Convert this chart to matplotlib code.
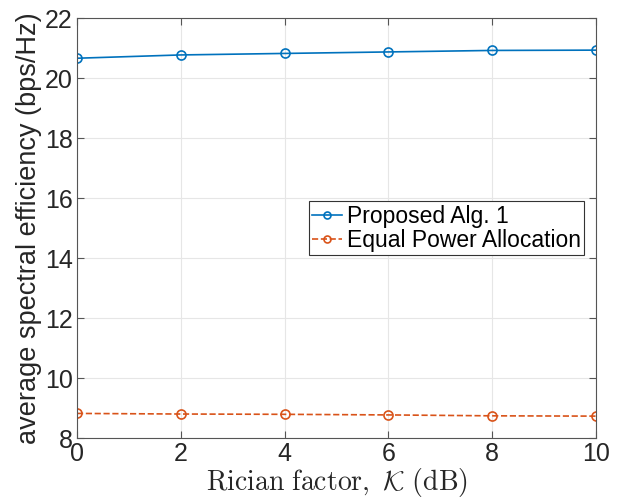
import matplotlib
matplotlib.use("Agg")
import matplotlib.pyplot as plt

K_DB = [0, 2, 4, 6, 8, 10]
PROPOSED = [20.66, 20.77, 20.82, 20.87, 20.92, 20.93]
EQUAL_PA = [8.82, 8.80, 8.79, 8.77, 8.74, 8.73]

plt.rcParams["font.family"] = ["Liberation Sans", "DejaVu Sans"]
plt.rcParams["mathtext.fontset"] = "cm"

fig = plt.figure(figsize=(6.18, 5.01), dpi=100)
ax = fig.add_axes([0.1246, 0.1257, 0.8398, 0.8383])

ax.plot(K_DB, PROPOSED, "-o", color="#0072BD", lw=1.2, ms=6.5, mfc="none", mew=1.2,
        label="Proposed Alg. 1")
ax.plot(K_DB, EQUAL_PA, "--o", color="#D95319", lw=1.2, ms=6.5, mfc="none", mew=1.2,
        label="Equal Power Allocation")

ax.set_xlim(0, 10)
ax.set_ylim(8, 22)
ax.set_xticks(range(0, 11, 2))
ax.set_yticks(range(8, 23, 2))
ax.grid(True, color="#e6e6e6", lw=0.8)
ax.set_axisbelow(True)
ax.tick_params(direction="in", top=True, right=True, labelsize=18, length=5,
               color="#555555", labelcolor="#262626", pad=3)
for s in ax.spines.values():
    s.set_color("#555555")
    s.set_linewidth(0.8)

ax.set_xlabel(r"$\mathrm{Rician\ factor,}\ \mathcal{K}\ \mathrm{(dB)}$", fontsize=20,
              labelpad=0, color="#262626")
ax.set_ylabel("average spectral efficiency (bps/Hz)", fontsize=19.5, labelpad=2,
              color="#262626")

leg = ax.legend(loc="upper left", bbox_to_anchor=(0.447, 0.564), fontsize=16.5,
                fancybox=False, framealpha=1, edgecolor="#333333", handlelength=1.3,
                handletextpad=0.2, borderpad=0.15, labelspacing=0.05, borderaxespad=0)
leg.get_frame().set_linewidth(0.8)
for h in leg.legend_handles:
    h.set_markersize(5)

fig.savefig("out.png", dpi=100)
